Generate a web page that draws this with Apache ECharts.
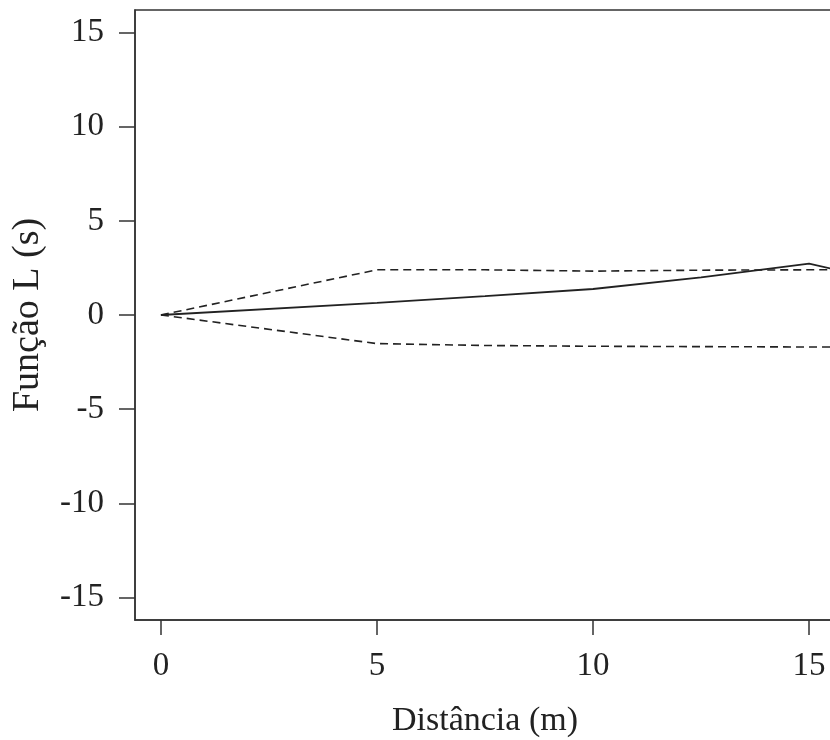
<!DOCTYPE html>
<html>
<head>
<meta charset="utf-8">
<script src="https://cdn.jsdelivr.net/npm/echarts@6/dist/echarts.min.js"></script>
<style>
  html, body { margin: 0; padding: 0; background: #fff; }
  #chart { width: 830px; height: 740px; }
</style>
</head>
<body>
<div id="chart"></div>
<script>
// distância (m) e função L observada + envelopes de simulação
var distancias = [0, 5, 7.5, 10, 12.5, 15, 15.6]
var funcaoL    = [0, 0.64, 1.0, 1.38, 2.0, 2.73, 2.42]
var envSup     = [0, 2.4, 2.4, 2.33, 2.38, 2.4, 2.4]
var envInf     = [0, -1.52, -1.62, -1.66, -1.68, -1.7, -1.7]
var xTicks = [0, 5, 10, 15]
var yTicks = [-15, -10, -5, 0, 5, 10, 15]

function pares (ys) {
  return distancias.map(function (d, i) { return [d, ys[i]] })
}

var fonte = 'Liberation Serif'
var cor = '#222'

var chart = echarts.init(document.getElementById('chart'))
chart.setOption({
  animation: false,
  grid: {
    left: 135, right: -5, top: 10, bottom: 120,
    outerBoundsMode: 'none',
    show: true, borderColor: '#333', borderWidth: 1.5
  },
  xAxis: {
    type: 'value', min: -0.6, max: 15.6,
    name: 'Distância (m)', nameLocation: 'middle', nameGap: 84,
    nameTextStyle: { fontFamily: fonte, fontSize: 34, color: cor },
    axisLine: { show: true, onZero: false, lineStyle: { color: '#333', width: 1.5 } },
    axisTick: { show: true, customValues: xTicks, length: 15, lineStyle: { color: '#333', width: 1.5 } },
    axisLabel: { customValues: xTicks, margin: 30, fontFamily: fonte, fontSize: 33, color: cor },
    splitLine: { show: false }
  },
  yAxis: {
    type: 'value', min: -16.2, max: 16.2,
    name: 'Função L (s)', nameLocation: 'middle', nameGap: 88,
    nameTextStyle: { fontFamily: fonte, fontSize: 38, color: cor },
    axisLine: { show: true, onZero: false, lineStyle: { color: '#333', width: 1.5 } },
    axisTick: { show: true, customValues: yTicks, length: 16, lineStyle: { color: '#333', width: 1.5 } },
    axisLabel: { customValues: yTicks, margin: 31, fontFamily: fonte, fontSize: 33, color: cor },
    splitLine: { show: false }
  },
  series: [
    {
      name: 'L(s)', type: 'line', data: pares(funcaoL),
      showSymbol: false, lineStyle: { color: cor, width: 1.8 }
    },
    {
      name: 'envelope superior', type: 'line', data: pares(envSup),
      showSymbol: false, lineStyle: { color: cor, width: 1.6, type: [8, 5] }
    },
    {
      name: 'envelope inferior', type: 'line', data: pares(envInf),
      showSymbol: false, lineStyle: { color: cor, width: 1.6, type: [8, 5] }
    }
  ]
})
</script>
</body>
</html>
